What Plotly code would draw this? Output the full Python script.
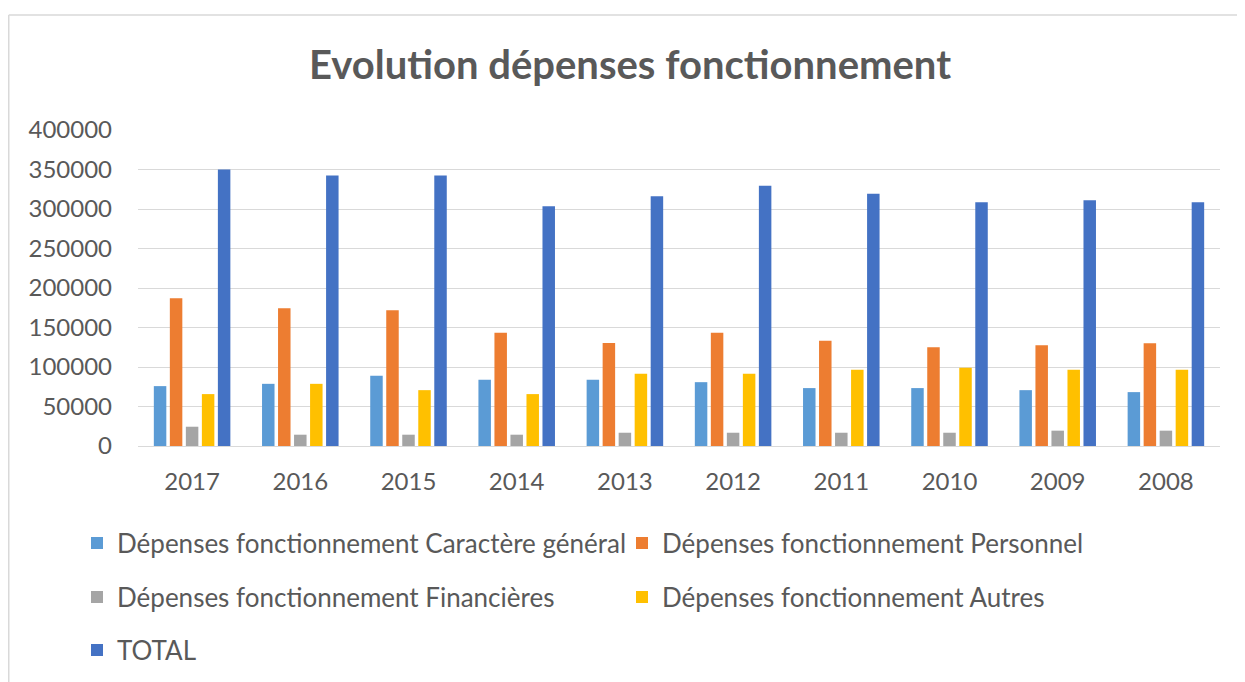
import plotly.graph_objects as go

years = ["2017", "2016", "2015", "2014", "2013", "2012", "2011", "2010", "2009", "2008"]
caractere_general = [75800, 78700, 88800, 83800, 83800, 80800, 73300, 73300, 70700, 68200]
personnel = [187000, 174300, 171800, 143200, 130500, 143200, 133100, 125100, 127600, 130100]
financieres = [24400, 14300, 14300, 14300, 16800, 16800, 16800, 16800, 19400, 19400]
autres = [65700, 78700, 70700, 65700, 91400, 91400, 96400, 98900, 96400, 96400]
total = [350000, 342300, 342300, 303600, 316200, 329300, 319200, 308600, 311200, 308600]

series = [
    ("Dépenses fonctionnement Caractère général", caractere_general, "#5B9BD5", "legend"),
    ("Dépenses fonctionnement Personnel", personnel, "#ED7D31", "legend"),
    ("Dépenses fonctionnement Financières", financieres, "#A5A5A5", "legend2"),
    ("Dépenses fonctionnement Autres", autres, "#FFC000", "legend2"),
    ("TOTAL", total, "#4472C4", "legend3"),
]

FONT = "Lato"
TXT = "#595959"
W, H = 1245, 682
# the page adds an 8px body margin; positions below are in figure pixels
L, T = 130, 122
PR, PB = 1212, 438          # plot right and bottom edges
R, B = W - PR, H - PB
PW, PH = PR - L, PB - T


def px2x(px):
    return (px - L) / PW


def px2y(py):
    return (PB - py) / PH


fig = go.Figure()
for name, vals, col, lg in series:
    fig.add_trace(go.Bar(x=years, y=vals, name=name, marker=dict(color=col, line=dict(width=0)),
                         legend=lg))


def leg(ypx):
    return dict(orientation="h", xref="paper", yref="paper",
                x=px2x(69), xanchor="left", y=px2y(ypx), yanchor="middle",
                entrywidth=500, entrywidthmode="pixels",
                font=dict(family=FONT, size=26, color=TXT),
                bgcolor="rgba(0,0,0,0)", traceorder="normal")


fig.update_layout(
    width=W, height=H,
    margin=dict(l=L, r=R, t=T, b=B),
    paper_bgcolor="white", plot_bgcolor="white",
    barmode="group", bargap=0.26, bargroupgap=0.22,
    title=dict(text="<b>Evolution dépenses fonctionnement</b>", xref="container", yref="container",
               x=622 / W, xanchor="center", y=(H - 57) / H, yanchor="middle",
               font=dict(family=FONT, size=40, color=TXT)),
    font=dict(family=FONT, color=TXT),
    legend=leg(535), legend2=leg(589), legend3=leg(642),
    showlegend=True,
    xaxis=dict(showgrid=False, showline=False, ticks="", tickfont=dict(family=FONT, size=24, color=TXT),
               ticklabelstandoff=19, zeroline=False),
    yaxis=dict(range=[0, 400000], dtick=50000, showgrid=True, gridcolor="#D9D9D9", gridwidth=1,
               zeroline=True, zerolinecolor="#D9D9D9", zerolinewidth=1, showline=False,
               tickformat="d", tickfont=dict(family=FONT, size=24, color=TXT),
               ticklabelstandoff=25),
    shapes=[
        dict(type="line", xref="paper", yref="paper", x0=px2x(0.75), x1=px2x(W + 10),
             y0=px2y(7), y1=px2y(7), line=dict(color="#D9D9D9", width=1.5)),
        dict(type="line", xref="paper", yref="paper", x0=px2x(0.75), x1=px2x(0.75),
             y0=px2y(7), y1=px2y(H + 10), line=dict(color="#D9D9D9", width=1.5)),
    ],
)

fig.write_html("out.html")
